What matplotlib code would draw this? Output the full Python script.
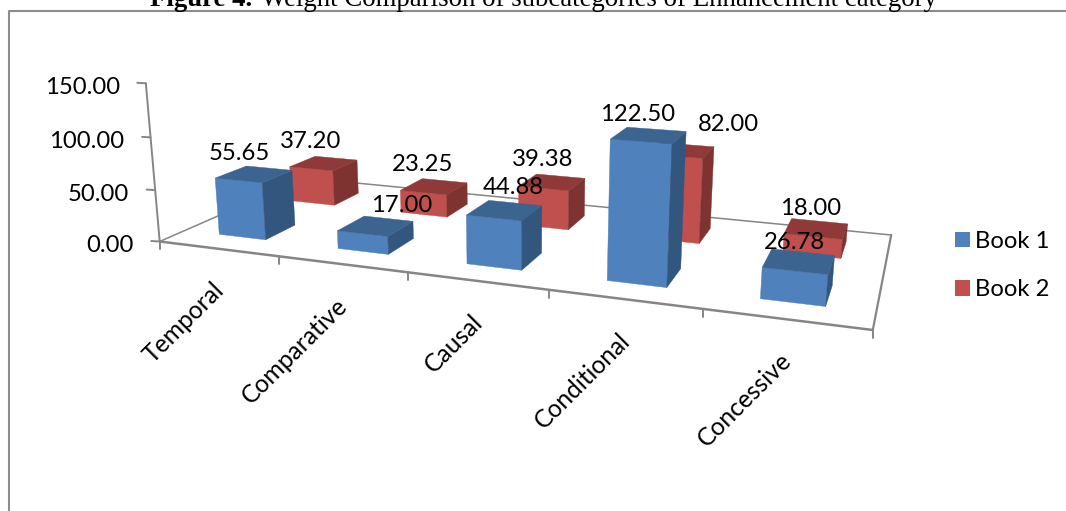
import numpy as np
import matplotlib
matplotlib.use("Agg")
import matplotlib.pyplot as plt
from matplotlib.patches import Polygon, Patch

categories = ["Temporal", "Comparative", "Causal", "Conditional", "Concessive"]
book1 = [55.65, 17.00, 44.88, 122.50, 26.78]
book2 = [37.20, 23.25, 39.38, 82.00, 18.00]
value_ticks = [0, 50, 100, 150]

BLUE = ("#4F81BD", "#33567F", "#3C6491")
RED = ("#C0504D", "#7F3331", "#8F3A38")
AXIS = "#868686"
FONT = "Lato"
TEXT_SIZE = 17.2

# Floor plane in pixels: front-left, front-right, back-right, back-left.
FLOOR = np.array([[159.7, 241.5], [872.8, 330.0], [891.2, 235.0], [304.6, 178.0]])
VERTICAL_VANISH = np.array([520.0, 4350.0])
TOP_OF_AXIS_Y = 83.3


def floor_homography():
    src = [(0, 0), (5, 0), (5, 1), (0, 1)]
    rows, rhs = [], []
    for (u, v), (x, y) in zip(src, FLOOR):
        rows.append([u, v, 1, 0, 0, 0, -u * x, -v * x])
        rows.append([0, 0, 0, u, v, 1, -u * y, -v * y])
        rhs += [x, y]
    return np.linalg.solve(np.array(rows, float), np.array(rhs, float)).tolist() + [1.0]


H = np.array(floor_homography()).reshape(3, 3)
# Height scale chosen so the top value tick lands at the top of the wall axis.
Z_SCALE = (FLOOR[0, 1] - TOP_OF_AXIS_Y) / (TOP_OF_AXIS_Y - VERTICAL_VANISH[1]) / value_ticks[-1]


def project(u, v, z=0.0):
    p = H @ [u, v, 1] + z * Z_SCALE * np.array([*VERTICAL_VANISH, 1.0])
    return p[:2] / p[2]


fig = plt.figure(figsize=(10.66, 5.11), dpi=100)
ax = fig.add_axes([0, 0, 1, 1])
ax.set_xlim(0, 1066)
ax.set_ylim(511, 0)
ax.axis("off")

# Outer frame of the chart, running off the right and bottom edges.
ax.plot([9, 9, 1066], [511, 11, 11], color="#8C8C8C", lw=1.5, solid_capstyle="butt")

# Caption, partly cut by the top of the page.
ax.text(150, 5.5, "Figure 4.", family="Liberation Serif", weight="bold", fontsize=19.3,
        color="black", va="baseline", ha="left")
ax.text(261, 5.5, "Weight Comparison of subcategories of Enhancement category",
        family="Liberation Serif", fontsize=19.3, color="black", va="baseline", ha="left")


def edge(a, b, lw):
    ax.plot([a[0], b[0]], [a[1], b[1]], color=AXIS, lw=lw, solid_capstyle="round", zorder=1)


# Floor outline
fl, fr = project(0, 0), project(5, 0)
br, bl = project(5, 1), project(0, 1)
edge(bl, br, 1.1)
edge(bl, fl, 1.1)
edge(br, fr, 1.6)
edge(fl, fr, 1.8)

# Category ticks below the front edge
for i in range(6):
    p = project(i, 0)
    edge(p, p + [0, 8], 1.4)

# Value axis with ticks and labels
edge(project(0, 0), project(0, 0, value_ticks[-1]), 1.4)
for t in value_ticks:
    p = project(0, 0, t)
    edge(p, p - [8.5, 0.5], 1.4)
    ax.text(p[0] - 26, p[1] + 4, f"{t:.2f}", family=FONT, fontsize=TEXT_SIZE, ha="right",
            va="center", color="black", zorder=6)


def draw_bar(i, v0, v1, value, colors, zorder):
    u0, u1 = i + 0.3, i + 0.7
    ff = [project(u0, v0), project(u1, v0), project(u1, v0, value), project(u0, v0, value)]
    side = [project(u1, v0), project(u1, v1), project(u1, v1, value), project(u1, v0, value)]
    top = [project(u0, v0, value), project(u1, v0, value), project(u1, v1, value), project(u0, v1, value)]
    for pts, c in zip((ff, side, top), colors):
        ax.add_patch(Polygon(pts, closed=True, facecolor=c, edgecolor=c, lw=0.3, zorder=zorder))


# Back row first so the front row covers it
for i, value in enumerate(book2):
    draw_bar(i, 0.65, 0.85, value, RED, 3)
for i, value in enumerate(book1):
    draw_bar(i, 0.15, 0.35, value, BLUE, 4)

# Value labels, placed relative to the centre of each bar top
offsets1 = [(-15, -21), (26.4, -20), (8.8, -23), (-10.7, -21), (-4.8, -19)]
offsets2 = [(-13.5, -22), (-11.2, -22), (-10, -23), (47, -26), (-5.2, -20)]
for values, vc, offs in ((book2, 0.75, offsets2), (book1, 0.25, offsets1)):
    for i, (value, off) in enumerate(zip(values, offs)):
        c = project(i + 0.5, vc, value)
        ax.text(c[0] + off[0], c[1] + off[1], f"{value:.2f}", family=FONT, fontsize=TEXT_SIZE,
                ha="center", va="center", color="black", zorder=7)

# Category labels at 45 degrees, ending below their slot on the front edge
for i, name in enumerate(categories):
    p = project(i + 0.5, 0)
    ax.text(p[0] + 2, p[1] + 37.5, name, family=FONT, fontsize=17.7, rotation=45, ha="right",
            va="center", rotation_mode="anchor", color="black", zorder=6)

handles = [Patch(facecolor=BLUE[0], label="Book 1"), Patch(facecolor=RED[0], label="Book 2")]
ax.legend(handles=handles, loc="upper left", bbox_to_anchor=(955, 231), bbox_transform=ax.transData,
          frameon=False, prop={"family": FONT, "size": TEXT_SIZE}, handlelength=0.63, handleheight=0.63,
          handletextpad=0.22, labelspacing=1.15, borderpad=0, borderaxespad=0)

fig.savefig("out.png", dpi=100, facecolor="white")
